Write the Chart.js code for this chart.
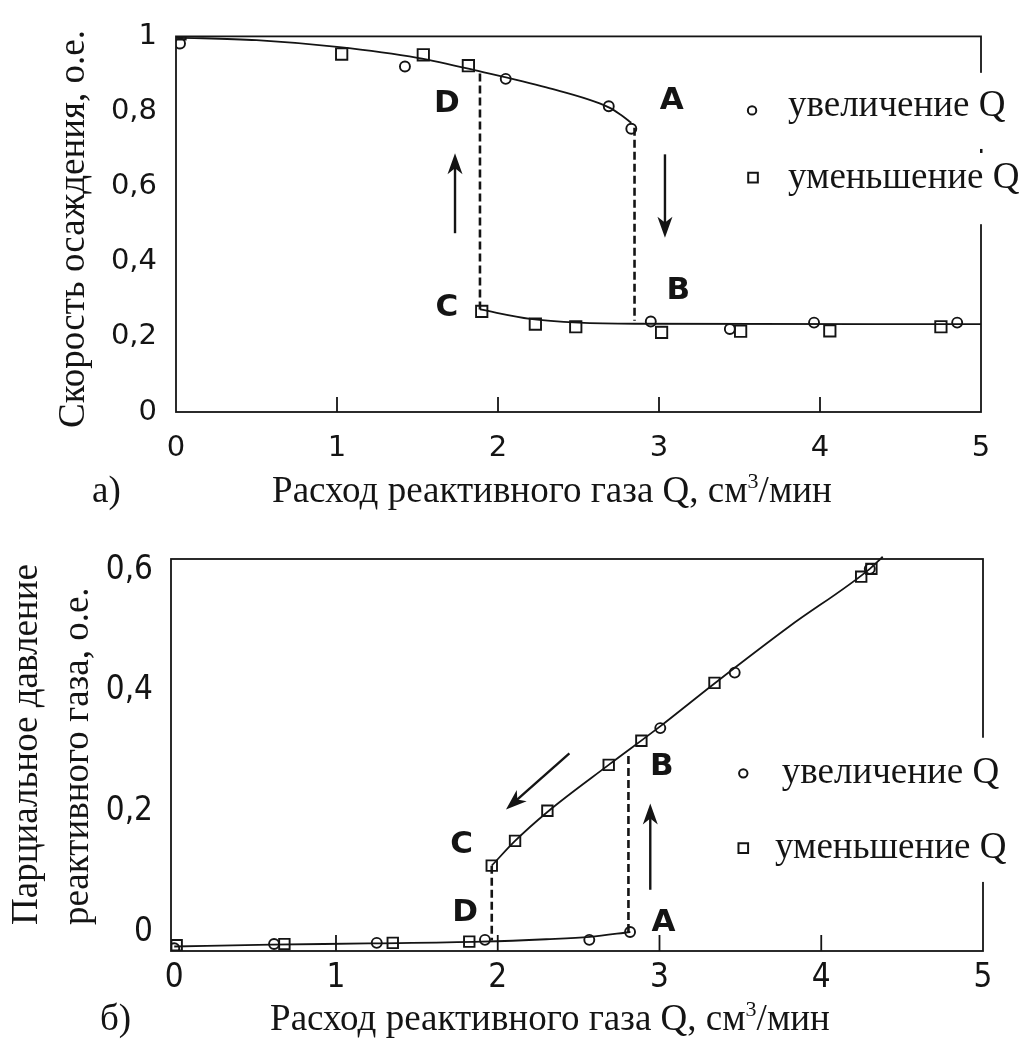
<!DOCTYPE html>
<html><head><meta charset="utf-8">
<script src="https://cdn.jsdelivr.net/npm/chart.js@4/dist/chart.umd.min.js"></script>
<style>
html,body{margin:0;padding:0;background:#fff;width:1025px;height:1044px;overflow:hidden}
canvas{position:absolute;left:0}
#c1{top:0}
#c2{top:520px}
</style></head><body>
<canvas id="c1" width="1025" height="520"></canvas>
<canvas id="c2" width="1025" height="524"></canvas>
<script>
// ---------- Data: chart а) deposition rate ----------
const rateIncQ = [0.025, 1.422, 2.048, 2.688, 2.828, 2.949, 3.44, 3.963, 4.852];
const rateInc  = [0.981, 0.92, 0.887, 0.814, 0.754, 0.241, 0.221, 0.238, 0.238];
const rateDecQ = [0.025, 1.029, 1.536, 1.816, 1.899, 2.232, 2.483, 3.016, 3.507, 4.061, 4.751];
const rateDec  = [1.007, 0.953, 0.951, 0.922, 0.268, 0.234, 0.227, 0.212, 0.215, 0.216, 0.227];
const rateFitHighQ = [0, 0.5, 1.0, 1.5, 1.888, 2.3, 2.688, 2.76, 2.828];
const rateFitHigh  = [0.997, 0.99, 0.972, 0.943, 0.907, 0.864, 0.811, 0.792, 0.77];
const rateFitLowQ = [1.888, 2.2, 2.5, 2.85, 5];
const rateFitLow  = [0.273, 0.248, 0.238, 0.235, 0.234];
const rateJumpUpQ = [1.888, 1.888];
const rateJumpUp  = [0.273, 0.907];
const rateJumpDownQ = [2.848, 2.848];
const rateJumpDown  = [0.757, 0.243];
const rateYTicks = [0, 0.2, 0.4, 0.6, 0.8, 1];

// ---------- Data: chart б) partial pressure ----------
const pressIncQ = [0.0, 0.617, 1.252, 1.921, 2.566, 2.818, 3.005, 3.465, 4.30];
const pressInc  = [-0.027, -0.020, -0.018, -0.013, -0.013, 0.0, 0.338, 0.43, 0.602];
const pressDecQ = [0.015, 0.681, 1.351, 1.824, 1.963, 2.107, 2.307, 2.686, 2.888, 3.34, 4.247, 4.31];
const pressDec  = [-0.022, -0.020, -0.018, -0.016, 0.110, 0.151, 0.201, 0.277, 0.317, 0.413, 0.589, 0.602];
const pressFitLowQ = [0, 0.6, 1.2, 1.9, 2.3, 2.57, 2.82];
const pressFitLow  = [-0.024, -0.021, -0.019, -0.016, -0.012, -0.008, 0.0];
const pressFitHighQ = [1.963, 2.107, 2.307, 2.686, 3.0, 3.34, 3.8, 4.3, 4.38];
const pressFitHigh  = [0.110, 0.151, 0.199, 0.277, 0.340, 0.412, 0.506, 0.602, 0.622];
const pressJumpUpQ = [2.808, 2.808];
const pressJumpUp  = [0.0, 0.296];
const pressJumpDownQ = [1.963, 1.963];
const pressJumpDown  = [0.110, -0.014];
const pressYTicks = [0, 0.2, 0.4, 0.6];

const xTicks = [0, 1, 2, 3, 4, 5];
const legendLabels = ['увеличение Q', 'уменьшение Q'];

// ---------- helpers ----------
const INK = '#141414';
const SERIF = '"Liberation Serif", "Times New Roman", serif';
const pts = (xs, ys) => xs.map((x, i) => ({x: x, y: ys[i]}));
const fmt = v => String(Math.round(v * 10) / 10).replace('.', ',');

function arrow(ctx, x1, y1, x2, y2, head, hw) {
  const ang = Math.atan2(y2 - y1, x2 - x1);
  ctx.beginPath();
  ctx.moveTo(x1, y1);
  ctx.lineTo(x2 - Math.cos(ang) * head * 0.6, y2 - Math.sin(ang) * head * 0.6);
  ctx.stroke();
  ctx.save();
  ctx.translate(x2, y2); ctx.rotate(ang);
  ctx.beginPath();
  ctx.moveTo(0, 0); ctx.lineTo(-head, -hw); ctx.lineTo(-head * 0.72, 0); ctx.lineTo(-head, hw);
  ctx.closePath(); ctx.fill();
  ctx.restore();
}

const annot = {
  id: 'annot',
  beforeDatasetsDraw(chart, args, o) {
    const ctx = chart.ctx, a = chart.chartArea, sx = chart.scales.x, sy = chart.scales.y;
    ctx.save();
    ctx.strokeStyle = INK; ctx.lineWidth = 1.8;
    ctx.strokeRect(a.left, a.top, a.right - a.left, a.bottom - a.top);
    o.tickMarks.forEach(v => {
      const px = sx.getPixelForValue(v);
      ctx.beginPath(); ctx.moveTo(px, a.bottom); ctx.lineTo(px, a.bottom - o.tickLen); ctx.stroke();
    });
    // white legend box interrupting the right border
    const gx = sx.getPixelForValue(o.gap.x), gy1 = sy.getPixelForValue(o.gap.y1), gy2 = sy.getPixelForValue(o.gap.y2);
    ctx.fillStyle = '#fff';
    ctx.fillRect(gx, gy1, chart.width - gx, gy2 - gy1);
    if (o.gap.dotY !== undefined) {
      const dy = sy.getPixelForValue(o.gap.dotY);
      ctx.fillStyle = INK; ctx.fillRect(a.right - 1, dy - 2, 2.5, 4);
    }
    ctx.restore();
  },
  afterDatasetsDraw(chart, args, o) {
    const ctx = chart.ctx, sx = chart.scales.x, sy = chart.scales.y;
    ctx.save();
    ctx.fillStyle = INK; ctx.strokeStyle = INK;
    // point letters
    ctx.font = 'bold ' + o.letterSize + 'px "DejaVu Sans", sans-serif';
    ctx.textAlign = 'center'; ctx.textBaseline = 'middle';
    o.letters.forEach(l => ctx.fillText(l[0], sx.getPixelForValue(l[1]), sy.getPixelForValue(l[2])));
    // arrows
    ctx.lineWidth = 2.4;
    o.arrows.forEach(r => arrow(ctx, sx.getPixelForValue(r[0]), sy.getPixelForValue(r[1]),
                                     sx.getPixelForValue(r[2]), sy.getPixelForValue(r[3]), 21, 7.5));
    // legend
    ctx.lineWidth = 2;
    o.legend.forEach((it, i) => {
      const mx = sx.getPixelForValue(it.mx), my = sy.getPixelForValue(it.my);
      ctx.beginPath();
      if (it.style === 'circle') ctx.arc(mx, my, 4.2, 0, Math.PI * 2);
      else ctx.rect(mx - 4.8, my - 4.8, 9.6, 9.6);
      ctx.stroke();
      ctx.font = '37px ' + SERIF;
      ctx.textAlign = 'left'; ctx.textBaseline = 'alphabetic';
      ctx.fillText(legendLabels[i], sx.getPixelForValue(it.tx), sy.getPixelForValue(it.ty));
    });
    ctx.restore();
  },
  afterDraw(chart, args, o) {
    const ctx = chart.ctx;
    ctx.save();
    ctx.fillStyle = INK;
    ctx.textBaseline = 'alphabetic';
    // y title (rotated)
    ctx.font = '37px ' + SERIF;
    o.yTitle.forEach(t => {
      ctx.save();
      ctx.translate(t.x, t.y); ctx.rotate(-Math.PI / 2);
      ctx.textAlign = t.align;
      ctx.fillText(t.text, 0, 0);
      ctx.restore();
    });
    // x title with superscript
    const p = o.xTitle.parts;
    ctx.font = '37px ' + SERIF;
    const w0 = ctx.measureText(p[0]).width, w2 = ctx.measureText(p[2]).width;
    ctx.font = '22px ' + SERIF;
    const w1 = ctx.measureText(p[1]).width;
    let x = o.xTitle.cx - (w0 + w1 + w2) / 2;
    ctx.textAlign = 'left';
    ctx.font = '37px ' + SERIF; ctx.fillText(p[0], x, o.xTitle.by); x += w0;
    ctx.font = '22px ' + SERIF; ctx.fillText(p[1], x, o.xTitle.by - 14); x += w1;
    ctx.font = '37px ' + SERIF; ctx.fillText(p[2], x, o.xTitle.by);
    // panel label
    ctx.fillText(o.panel.text, o.panel.x, o.panel.y);
    ctx.restore();
  }
};

function lineDs(xs, ys, extra) {
  return Object.assign({data: pts(xs, ys), showLine: true, pointRadius: 0, pointHoverRadius: 0,
    borderColor: INK, borderWidth: 1.8, cubicInterpolationMode: 'monotone', fill: false}, extra || {});
}
function markDs(xs, ys, style, r) {
  return {data: pts(xs, ys), showLine: false, pointStyle: style, pointRadius: r, pointHoverRadius: r,
    borderColor: INK, pointBorderColor: INK, backgroundColor: 'rgba(0,0,0,0)', pointBackgroundColor: 'rgba(0,0,0,0)',
    borderWidth: 1.9, pointBorderWidth: 1.9};
}
const dashed = {borderDash: [8, 4], borderWidth: 2.6, cubicInterpolationMode: 'default'};

function makeOptions(cfg) {
  return {
    responsive: false, animation: false, events: [],
    layout: {padding: {left: 0, top: cfg.top, right: cfg.right, bottom: 0}},
    plugins: {legend: {display: false}, tooltip: {enabled: false}, annot: cfg.ann},
    scales: {
      x: {type: 'linear', min: cfg.xmin, max: 5,
        afterBuildTicks: s => { s.ticks = xTicks.map(v => ({value: v})); },
        afterFit: s => { s.height = cfg.xh; },
        grid: {display: false, drawTicks: false}, border: {display: false},
        ticks: {padding: cfg.xpad, color: INK, font: cfg.tickFont, maxRotation: 0, callback: v => fmt(v)}},
      y: {type: 'linear', min: cfg.ymin, max: cfg.ymax,
        afterBuildTicks: s => { s.ticks = cfg.yTicks.map(v => ({value: v})); },
        afterFit: s => { s.width = cfg.left; },
        grid: {display: false, drawTicks: false}, border: {display: false},
        ticks: {padding: cfg.ypad, color: INK, font: cfg.tickFont, callback: v => fmt(v)}}
    }
  };
}

// ---------- chart а) ----------
new Chart(document.getElementById('c1'), {
  type: 'scatter',
  data: {datasets: [
    markDs(rateIncQ, rateInc, 'circle', 5),
    markDs(rateDecQ, rateDec, 'rect', 8),
    lineDs(rateFitHighQ, rateFitHigh),
    lineDs(rateFitLowQ, rateFitLow),
    lineDs(rateJumpUpQ, rateJumpUp, dashed),
    lineDs(rateJumpDownQ, rateJumpDown, dashed)
  ]},
  options: makeOptions({
    top: 32, right: 44, left: 176, xh: 108, xmin: 0, ymin: 0, ymax: 1, yTicks: rateYTicks,
    xpad: 19, ypad: 19, tickFont: {family: '"DejaVu Sans", sans-serif', size: 29},
    ann: {
      tickMarks: [1, 2, 3, 4], tickLen: 15, letterSize: 31,
      gap: {x: 3.3, y1: 0.903, y2: 0.5, dotY: 0.695},
      letters: [['D', 1.683, 0.821], ['C', 1.683, 0.276], ['A', 3.079, 0.827], ['B', 3.12, 0.322]],
      arrows: [[1.733, 0.476, 1.733, 0.689], [3.037, 0.686, 3.037, 0.464]],
      legend: [{style: 'circle', mx: 3.578, my: 0.803, tx: 3.801, ty: 0.787},
               {style: 'rect', mx: 3.584, my: 0.624, tx: 3.801, ty: 0.597}],
      yTitle: [{text: 'Скорость осаждения, о.е.', x: 84, y: 229, align: 'center'}],
      xTitle: {parts: ['Расход реактивного газа Q, см', '3', '/мин'], cx: 552, by: 502},
      panel: {text: 'а)', x: 92, y: 502}
    }
  }),
  plugins: [annot]
});

// ---------- chart б) ----------
new Chart(document.getElementById('c2'), {
  type: 'scatter',
  data: {datasets: [
    markDs(pressIncQ, pressInc, 'circle', 5),
    markDs(pressDecQ, pressDec, 'rect', 7.4),
    lineDs(pressFitLowQ, pressFitLow),
    Object.assign(lineDs(pressFitHighQ, pressFitHigh), {clip: 8}),
    lineDs(pressJumpUpQ, pressJumpUp, dashed),
    lineDs(pressJumpDownQ, pressJumpDown, dashed)
  ]},
  options: makeOptions({
    top: 39, right: 42, left: 171, xh: 93, xmin: -0.02, ymin: -0.0315, ymax: 0.6183, yTicks: pressYTicks,
    xpad: 8, ypad: 18, tickFont: {family: '"DejaVu Sans Condensed", "DejaVu Sans", sans-serif', size: 33},
    ann: {
      tickMarks: [1, 2, 3, 4], tickLen: 16, letterSize: 31,
      gap: {x: 3.3, y1: 0.322, y2: 0.083},
      letters: [['C', 1.777, 0.144], ['D', 1.798, 0.031], ['B', 3.014, 0.274], ['A', 3.024, 0.015]],
      arrows: [[2.443, 0.296, 2.051, 0.203], [2.943, 0.07, 2.943, 0.213]],
      legend: [{style: 'circle', mx: 3.518, my: 0.263, tx: 3.756, ty: 0.247},
               {style: 'rect', mx: 3.518, my: 0.139, tx: 3.714, ty: 0.123}],
      yTitle: [{text: 'Парциальное давление', x: 37, y: 405, align: 'left'},
               {text: 'реактивного газа, о.е.', x: 88, y: 405, align: 'left'}],
      xTitle: {parts: ['Расход реактивного газа Q, см', '3', '/мин'], cx: 550, by: 510},
      panel: {text: 'б)', x: 100, y: 510}
    }
  }),
  plugins: [annot]
});
</script>
</body></html>
